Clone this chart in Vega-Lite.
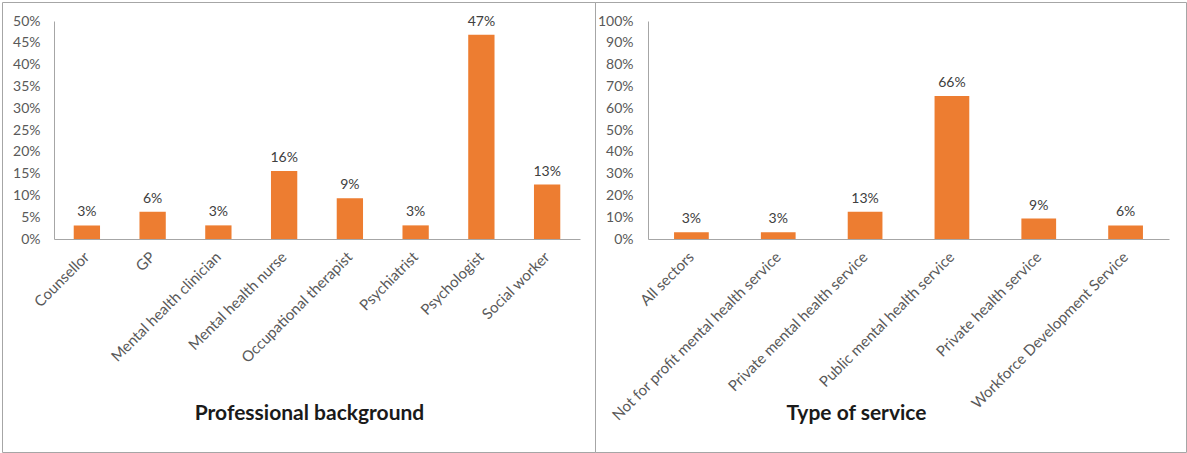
{
  "$schema": "https://vega.github.io/schema/vega-lite/v6.json",
  "padding": {"left": 1, "top": 1, "right": 1, "bottom": 1},
  "spacing": 0,
  "bounds": "flush",
  "background": "white",
  "config": {
    "font": "Lato",
    "view": {"stroke": "#A6A6A6", "strokeWidth": 1},
    "axis": {
      "grid": false,
      "ticks": false,
      "tickSize": 0,
      "domainColor": "#A6A6A6",
      "labelColor": "#595959",
      "labelFont": "Lato",
      "labelFontSize": 14,
      "labelLimit": 400,
      "titleColor": "#1A1A1A",
      "titleFont": "Lato",
      "titleFontSize": 21,
      "titleFontWeight": "bold"
    },
    "axisX": {"labelFontSize": 15}
  },
  "datasets": {
    "professional": [
      {"category": "Counsellor", "share": 0.03125},
      {"category": "GP", "share": 0.0625},
      {"category": "Mental health clinician", "share": 0.03125},
      {"category": "Mental health nurse", "share": 0.15625},
      {"category": "Occupational therapist", "share": 0.09375},
      {"category": "Psychiatrist", "share": 0.03125},
      {"category": "Psychologist", "share": 0.46875},
      {"category": "Social worker", "share": 0.125}
    ],
    "service": [
      {"category": "All sectors", "share": 0.03125},
      {"category": "Not for profit mental health service", "share": 0.03125},
      {"category": "Private mental health service", "share": 0.125},
      {"category": "Public mental health service", "share": 0.65625},
      {"category": "Private health service", "share": 0.09375},
      {"category": "Workforce Development Service", "share": 0.0625}
    ]
  },
  "hconcat": [
    {
      "width": 593,
      "height": 450,
      "data": {"name": "professional"},
      "encoding": {
        "x": {
          "field": "category",
          "type": "nominal",
          "sort": null,
          "scale": {"range": [52, 578], "paddingInner": 0.6, "paddingOuter": 0.3},
          "axis": {
            "title": "Professional background",
            "offset": -213,
            "labelAngle": -45,
            "labelAlign": "right",
            "labelBaseline": "middle",
            "labelPadding": 15,
            "titleX": 307,
            "titleY": 174,
            "titleBaseline": "middle",
            "titleAlign": "center"
          }
        },
        "y": {
          "field": "share",
          "type": "quantitative",
          "scale": {"domain": [0, 0.5], "range": [237, 19], "nice": false},
          "axis": {
            "title": null,
            "offset": -52,
            "format": ".0%",
            "labelPadding": 14,
            "values": [0, 0.05, 0.1, 0.15, 0.2, 0.25, 0.3, 0.35, 0.4, 0.45, 0.5]
          }
        }
      },
      "layer": [
        {"mark": {"type": "bar", "color": "#ED7D31"}},
        {
          "mark": {"type": "text", "baseline": "alphabetic", "dy": -9, "fontSize": 14, "color": "#404040"},
          "encoding": {"text": {"field": "share", "type": "quantitative", "format": ".0%"}}
        }
      ]
    },
    {
      "width": 591,
      "height": 450,
      "data": {"name": "service"},
      "encoding": {
        "x": {
          "field": "category",
          "type": "nominal",
          "sort": null,
          "scale": {"range": [53, 574], "paddingInner": 0.6, "paddingOuter": 0.3},
          "axis": {
            "title": "Type of service",
            "offset": -213,
            "labelAngle": -45,
            "labelAlign": "right",
            "labelBaseline": "middle",
            "labelPadding": 15,
            "titleX": 261,
            "titleY": 174,
            "titleBaseline": "middle",
            "titleAlign": "center"
          }
        },
        "y": {
          "field": "share",
          "type": "quantitative",
          "scale": {"domain": [0, 1], "range": [237, 19], "nice": false},
          "axis": {
            "title": null,
            "offset": -53,
            "format": ".0%",
            "labelPadding": 15,
            "values": [0, 0.1, 0.2, 0.3, 0.4, 0.5, 0.6, 0.7, 0.8, 0.9, 1]
          }
        }
      },
      "layer": [
        {"mark": {"type": "bar", "color": "#ED7D31"}},
        {
          "mark": {"type": "text", "baseline": "alphabetic", "dy": -9, "fontSize": 14, "color": "#404040"},
          "encoding": {"text": {"field": "share", "type": "quantitative", "format": ".0%"}}
        }
      ]
    }
  ]
}
